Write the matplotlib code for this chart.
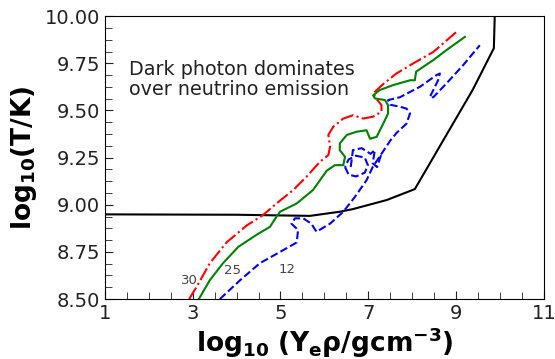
import numpy as np
import matplotlib
matplotlib.use('Agg')
import matplotlib.pyplot as plt
from matplotlib.ticker import AutoMinorLocator, FormatStrFormatter

## boundary where dark photon emission equals neutrino emission (black)
bound_x = [1.0, 4.0, 5.67, 6.35, 6.65, 7.42, 8.06, 9.38, 9.86, 9.88]
bound_y = [8.949, 8.947, 8.941, 8.963, 8.977, 9.025, 9.083, 9.61, 9.83, 10.0]

## contour 30 (red, dash-dot)
c30_x = [2.92, 3.09, 3.39, 3.77, 4.23, 4.6, 4.91, 5.29, 5.59, 5.9, 6.09, 6.13, 6.09,
         6.2, 6.43, 6.66, 6.88, 7.11, 7.3, 7.3, 7.19, 7.11, 7.34, 7.64, 8.02, 8.48, 9.01]
c30_y = [8.5, 8.565, 8.69, 8.80, 8.89, 8.945, 9.007, 9.078, 9.148, 9.228, 9.263, 9.308, 9.37,
         9.413, 9.457, 9.475, 9.457, 9.467, 9.493, 9.528, 9.56, 9.59, 9.64, 9.696, 9.749, 9.81, 9.917]

## contour 25 (green, solid)
c25_x = [3.14, 3.39, 3.69, 4.04, 4.45, 4.76, 4.91, 4.99, 5.37, 5.74, 5.9, 6.05, 6.24, 6.43,
         6.47, 6.35, 6.35, 6.51, 6.73, 6.96, 7.04, 7.19, 7.34, 7.45, 7.45, 7.38, 7.15, 7.11,
         7.26, 7.56, 7.95, 8.06, 8.09, 8.48, 8.78, 9.2]
c25_y = [8.5, 8.60, 8.69, 8.777, 8.84, 8.883, 8.937, 8.963, 9.007, 9.078, 9.13, 9.18, 9.21, 9.21,
         9.254, 9.29, 9.325, 9.37, 9.387, 9.395, 9.35, 9.36, 9.43, 9.484, 9.528, 9.555, 9.564, 9.58,
         9.608, 9.634, 9.66, 9.66, 9.706, 9.767, 9.82, 9.89]

## contour 12 (blue, dashed) main branch
c12_x = [3.62, 4.08, 4.53, 4.99, 5.37, 5.4, 5.25, 5.33, 5.52, 5.7, 5.82, 6.13, 6.43, 6.69,
         6.96, 7.1, 7.3, 7.5, 7.64, 7.87, 7.95, 7.87, 7.72, 7.5, 7.45, 7.72, 8.18, 8.55, 8.63,
         8.59, 8.4, 8.48, 8.78, 9.16, 9.54]
c12_y = [8.5, 8.60, 8.69, 8.75, 8.80, 8.866, 8.90, 8.928, 8.928, 8.90, 8.857, 8.90, 8.963, 9.04,
         9.13, 9.2, 9.27, 9.34, 9.38, 9.43, 9.484, 9.51, 9.52, 9.53, 9.555, 9.57, 9.626, 9.687, 9.696,
         9.66, 9.57, 9.57, 9.643, 9.74, 9.846]
## small closed pieces of contour 12
loop1_x = [6.47, 6.55, 6.72, 6.92, 6.99, 6.92, 6.72, 6.55, 6.47]
loop1_y = [9.20, 9.16, 9.15, 9.17, 9.21, 9.25, 9.26, 9.24, 9.20]
loop2_x = [6.6, 6.65, 6.85, 7.05, 7.15, 7.1, 7.2, 7.3]
loop2_y = [9.20, 9.29, 9.30, 9.27, 9.29, 9.22, 9.20, 9.27]

labels = ['30', '25', '12']
label_x = [2.93, 3.91, 5.14]
label_y = [8.60, 8.65, 8.655]

xticks = [1, 3, 5, 7, 9, 11]

plt.rcParams['mathtext.default'] = 'bf'

fig = plt.figure(figsize=(5.55, 3.59), dpi=100)
ax = fig.add_axes([0.189, 0.167, 0.791, 0.788])

ax.plot(bound_x, bound_y, color='black', lw=1.5)
ax.plot(c30_x, c30_y, color='red', lw=1.5, ls='-.')
ax.plot(c25_x, c25_y, color='green', lw=1.5, ls='-')
ax.plot(c12_x, c12_y, color='blue', lw=1.5, ls='--')
ax.plot(loop1_x, loop1_y, color='blue', lw=1.5, ls='--')
ax.plot(loop2_x, loop2_y, color='blue', lw=1.5, ls='--')

for s, lx, ly in zip(labels, label_x, label_y):
    ax.text(lx, ly, s, fontsize=9.5, color='#444444', ha='center', va='center')

ax.text(1.55, 9.665, 'Dark photon dominates\nover neutrino emission', fontsize=13.8,
        color='#222222', ha='left', va='center', linespacing=1.1)

ax.set_xlim(1, 11)
ax.set_ylim(8.5, 10.0)
ax.set_xticks(xticks)
ax.set_yticks([8.5, 8.75, 9.0, 9.25, 9.5, 9.75, 10.0])
ax.xaxis.set_minor_locator(AutoMinorLocator(4))
ax.yaxis.set_minor_locator(AutoMinorLocator(4))
ax.tick_params(which='both', direction='in', top=False, right=False, labelsize=14, colors='#222222')
ax.tick_params(which='major', length=6)
ax.tick_params(which='minor', length=5)
ax.yaxis.set_major_formatter(FormatStrFormatter('%.2f'))

ax.set_xlabel(r'$\mathbf{log_{10}\ (Y_e\rho/gcm^{-3})}$', fontsize=19, labelpad=2)
ax.set_ylabel(r'$\mathbf{log_{10}(T/K)}$', fontsize=19, labelpad=4)

fig.savefig('out.png', dpi=100)
